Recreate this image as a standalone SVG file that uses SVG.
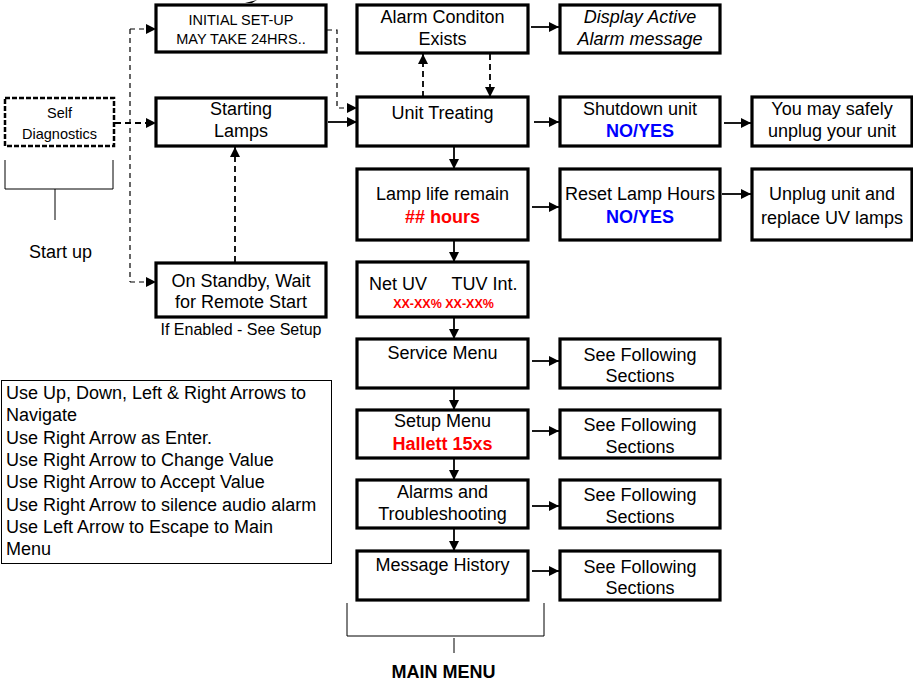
<svg xmlns="http://www.w3.org/2000/svg" width="913" height="681" viewBox="0 0 913 681">
<style>
text{font-family:"Liberation Sans",Arial,sans-serif;fill:#000}
.t{font-size:18px}
.c{text-anchor:middle}
.s{font-size:14.5px}
.b{font-weight:bold}
.red{fill:#ff0000}
.blue{fill:#0000ff}
.box{fill:#fff;stroke:#000;stroke-width:3.2}
.dbox{fill:#fff;stroke:#000;stroke-width:2.5;stroke-dasharray:5 2}
.ln{fill:none;stroke:#000;stroke-width:1.8}
.dl{fill:none;stroke:#000;stroke-width:1.8;stroke-dasharray:6 4}
.dt{fill:none;stroke:#000;stroke-width:1.2;stroke-dasharray:5 4}
.th{fill:none;stroke:#000;stroke-width:1}
</style>
<defs>
<marker id="ah" viewBox="0 0 10 10" refX="10" refY="5" markerWidth="10" markerHeight="10" markerUnits="userSpaceOnUse" orient="auto">
<path d="M0,0 L10,5 L0,10 z" fill="#000"/>
</marker>
</defs>
<g id="connectors">
<polygon points="245,3 257,0 252,3" fill="#000"/>
<line class="dt" x1="130" y1="29" x2="130" y2="282"/>
<line class="dt" x1="130" y1="29" x2="156" y2="29" marker-end="url(#ah)"/>
<line class="dt" x1="130" y1="282" x2="156" y2="282" marker-end="url(#ah)"/>
<line class="dl" x1="115" y1="123" x2="156" y2="123" marker-end="url(#ah)"/>
<line class="dl" x1="235" y1="262" x2="235" y2="147" marker-end="url(#ah)"/>
<polyline class="dt" points="327,30 337,30 337,108 357,108" marker-end="url(#ah)"/>
<line class="ln" x1="328" y1="122" x2="357" y2="122" marker-end="url(#ah)"/>
<line class="dl" x1="423" y1="97" x2="423" y2="54" marker-end="url(#ah)"/>
<line class="dl" x1="490" y1="54" x2="490" y2="97" marker-end="url(#ah)"/>
<line class="ln" x1="531" y1="27" x2="559" y2="27" marker-end="url(#ah)"/>
<line class="ln" x1="534" y1="122" x2="559" y2="122" marker-end="url(#ah)"/>
<line class="ln" x1="724" y1="123" x2="751" y2="123" marker-end="url(#ah)"/>
<line class="ln" x1="454" y1="147" x2="454" y2="169" marker-end="url(#ah)"/>
<line class="ln" x1="532" y1="207" x2="559" y2="207" marker-end="url(#ah)"/>
<line class="ln" x1="722" y1="194" x2="751" y2="194" marker-end="url(#ah)"/>
<line class="ln" x1="454" y1="240" x2="454" y2="262" marker-end="url(#ah)"/>
<line class="ln" x1="454" y1="317" x2="454" y2="339" marker-end="url(#ah)"/>
<line class="ln" x1="532" y1="361" x2="559" y2="361" marker-end="url(#ah)"/>
<line class="ln" x1="454" y1="388" x2="454" y2="410" marker-end="url(#ah)"/>
<line class="ln" x1="532" y1="431" x2="559" y2="431" marker-end="url(#ah)"/>
<line class="ln" x1="454" y1="458" x2="454" y2="480" marker-end="url(#ah)"/>
<line class="ln" x1="532" y1="506" x2="559" y2="506" marker-end="url(#ah)"/>
<line class="ln" x1="454" y1="528" x2="454" y2="551" marker-end="url(#ah)"/>
<line class="ln" x1="532" y1="571" x2="559" y2="571" marker-end="url(#ah)"/>
<polyline class="th" points="5,160 5,189 113,189 113,160"/>
<line class="th" x1="55" y1="189" x2="55" y2="220"/>
<polyline class="th" points="347,603 347,636 544,636 544,603"/>
<line class="th" x1="454" y1="638" x2="454" y2="653"/>
</g>
<g id="initial"><rect class="box" x="156" y="5" width="170" height="47"/>
<text class="s c" x="241" y="25">INITIAL SET-UP</text><text class="s c" x="241" y="44">MAY TAKE 24HRS..</text></g>
<g id="selfdiag"><rect class="dbox" x="5" y="98" width="109" height="48"/>
<text class="s c" x="59.5" y="118">Self</text><text class="s c" x="59.5" y="139">Diagnostics</text></g>
<g id="startup"><text class="t" x="29" y="258">Start up</text></g>
<g id="starting"><rect class="box" x="156" y="98" width="170" height="48"/>
<text class="t c" x="241" y="115">Starting</text><text class="t c" x="241" y="137">Lamps</text></g>
<g id="standby"><rect class="box" x="156" y="263" width="170" height="54"/>
<text class="t c" x="241" y="287">On Standby, Wait</text><text class="t c" x="241" y="308">for Remote Start</text>
<text class="c" x="241" y="335" font-size="16">If Enabled - See Setup</text></g>
<g id="instructions"><rect class="th" x="1.5" y="380.5" width="330" height="183"/>
<text class="t" x="6" y="399">Use Up, Down, Left &amp; Right Arrows to</text>
<text class="t" x="6" y="421.3">Navigate</text>
<text class="t" x="6" y="443.6">Use Right Arrow as Enter.</text>
<text class="t" x="6" y="465.9">Use Right Arrow to Change Value</text>
<text class="t" x="6" y="488.2">Use Right Arrow to Accept Value</text>
<text class="t" x="6" y="510.5">Use Right Arrow to silence audio alarm</text>
<text class="t" x="6" y="532.8">Use Left Arrow to Escape to Main</text>
<text class="t" x="6" y="555">Menu</text></g>
<g id="alarmcond"><rect class="box" x="357" y="5" width="171" height="48"/>
<text class="t c" x="442.5" y="23">Alarm Conditon</text><text class="t c" x="442.5" y="45">Exists</text></g>
<g id="display"><rect class="box" x="560" y="5" width="160" height="48"/>
<text class="t c" x="640" y="23" font-style="italic">Display Active</text><text class="t c" x="640" y="45" font-style="italic">Alarm message</text></g>
<g id="treating"><rect class="box" x="357" y="97" width="171" height="49"/>
<text class="t c" x="442.5" y="119">Unit Treating</text></g>
<g id="shutdown"><rect class="box" x="560" y="97" width="160" height="49"/>
<text class="t c" x="640" y="115">Shutdown unit</text><text class="t c b blue" x="640" y="137">NO/YES</text></g>
<g id="unplugsafe"><rect class="box" x="752" y="97" width="160" height="49"/>
<text class="t c" x="832" y="115">You may safely</text><text class="t c" x="832" y="137">unplug your unit</text></g>
<g id="lamplife"><rect class="box" x="357" y="169" width="171" height="71"/>
<text class="t c" x="442.5" y="200">Lamp life remain</text><text class="t c b red" x="442.5" y="223">## hours</text></g>
<g id="reset"><rect class="box" x="560" y="169" width="160" height="71"/>
<text class="t c" x="640" y="200">Reset Lamp Hours</text><text class="t c b blue" x="640" y="223">NO/YES</text></g>
<g id="replace"><rect class="box" x="752" y="169" width="160" height="71"/>
<text class="t c" x="832" y="200">Unplug unit and</text><text class="t c" x="832" y="224">replace UV lamps</text></g>
<g id="netuv"><rect class="box" x="357" y="262" width="171" height="55"/>
<text class="t" x="369" y="290">Net UV</text><text class="t" x="451.5" y="290">TUV Int.</text>
<text class="c b red" x="443.5" y="308" font-size="12.5">XX-XX% XX-XX%</text></g>
<g id="service"><rect class="box" x="357" y="339" width="171" height="49"/>
<text class="t c" x="442.5" y="359">Service Menu</text></g>
<g id="see1"><rect class="box" x="560" y="339" width="160" height="49"/>
<text class="t c" x="640" y="361">See Following</text><text class="t c" x="640" y="382">Sections</text></g>
<g id="setup"><rect class="box" x="357" y="410" width="171" height="48"/>
<text class="t c" x="442.5" y="427">Setup Menu</text><text class="t c b red" x="442.5" y="450">Hallett 15xs</text></g>
<g id="see2"><rect class="box" x="560" y="410" width="160" height="48"/>
<text class="t c" x="640" y="431">See Following</text><text class="t c" x="640" y="453">Sections</text></g>
<g id="alarms"><rect class="box" x="357" y="480" width="171" height="48"/>
<text class="t c" x="442.5" y="498">Alarms and</text><text class="t c" x="442.5" y="520">Troubleshooting</text></g>
<g id="see3"><rect class="box" x="560" y="480" width="160" height="48"/>
<text class="t c" x="640" y="501">See Following</text><text class="t c" x="640" y="523">Sections</text></g>
<g id="history"><rect class="box" x="357" y="551" width="171" height="49"/>
<text class="t c" x="442.5" y="571">Message History</text></g>
<g id="see4"><rect class="box" x="560" y="551" width="160" height="49"/>
<text class="t c" x="640" y="573">See Following</text><text class="t c" x="640" y="594">Sections</text></g>
<g id="mainmenu"><text class="t c b" x="443.5" y="678">MAIN MENU</text></g>
</svg>
